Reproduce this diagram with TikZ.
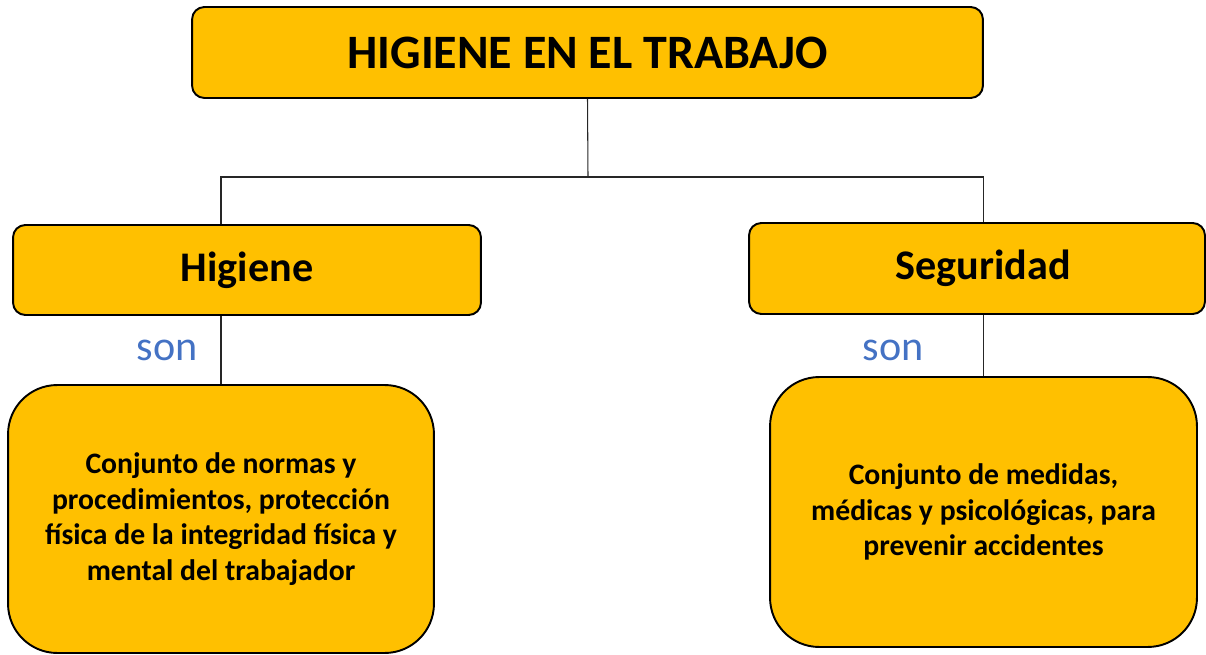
\documentclass[tikz,border=0pt]{standalone}
\usepackage{fontspec}
\setmainfont{Carlito}
\definecolor{gold}{HTML}{FFC000}
\definecolor{sonblue}{HTML}{4472C4}
\tikzset{
	box/.style={draw=black, line width=1.1pt, fill=gold, rounded corners=7pt, inner sep=0pt},
	bigbox/.style={box, rounded corners=28pt, align=center, font=\bfseries\fontsize{16.9}{20.2}\selectfont},
	link/.style={draw=black!85, line width=0.6pt},
	son/.style={anchor=base, text=sonblue, font=\fontsize{24}{28}\selectfont},
}
\begin{document}
\begin{tikzpicture}[x=0.02cm,y=-0.02cm]
		\useasboundingbox (0,0) rectangle (1206,655);
		\node[box, minimum width=15.82cm, minimum height=1.82cm, font=\bfseries\fontsize{27.3}{32}\selectfont] (title) at (587.5,52.5) {HIGIENE EN EL TRABAJO};
		\node[box, minimum width=9.36cm, minimum height=1.8cm, font=\bfseries\fontsize{24}{28}\selectfont] (hig) at (247,270) {Higiene};
		\node[box, minimum width=9.12cm, minimum height=1.82cm, font=\bfseries\fontsize{24}{28}\selectfont] (seg) at (977,268.5) {\hspace*{0.24cm}Seguridad};
		\node[bigbox, minimum width=8.52cm, minimum height=5.36cm] (lbot) at (221,519) {Conjunto de normas y\\ procedimientos, protección\\ física de la integridad física y\\ mental del trabajador};
		\node[bigbox, minimum width=8.54cm, minimum height=5.4cm] (rbot) at (983.5,512) {Conjunto de medidas,\\ médicas y psicológicas, para\\ prevenir accidentes};
		\coordinate (j) at (588,177);
		\draw[link] (title.south) -- (j);
		\draw[link] (lbot.north |- hig.north) |- (j) -| (rbot.north |- seg.north);
		\draw[link] (lbot.north |- hig.south) -- (lbot.north);
		\draw[link] (rbot.north |- seg.south) -- (rbot.north);
		\node[son] (sonl) at (167,360) {son};
		\node[son] (sonr) at (893,360) {son};
	\end{tikzpicture}
\end{document}
